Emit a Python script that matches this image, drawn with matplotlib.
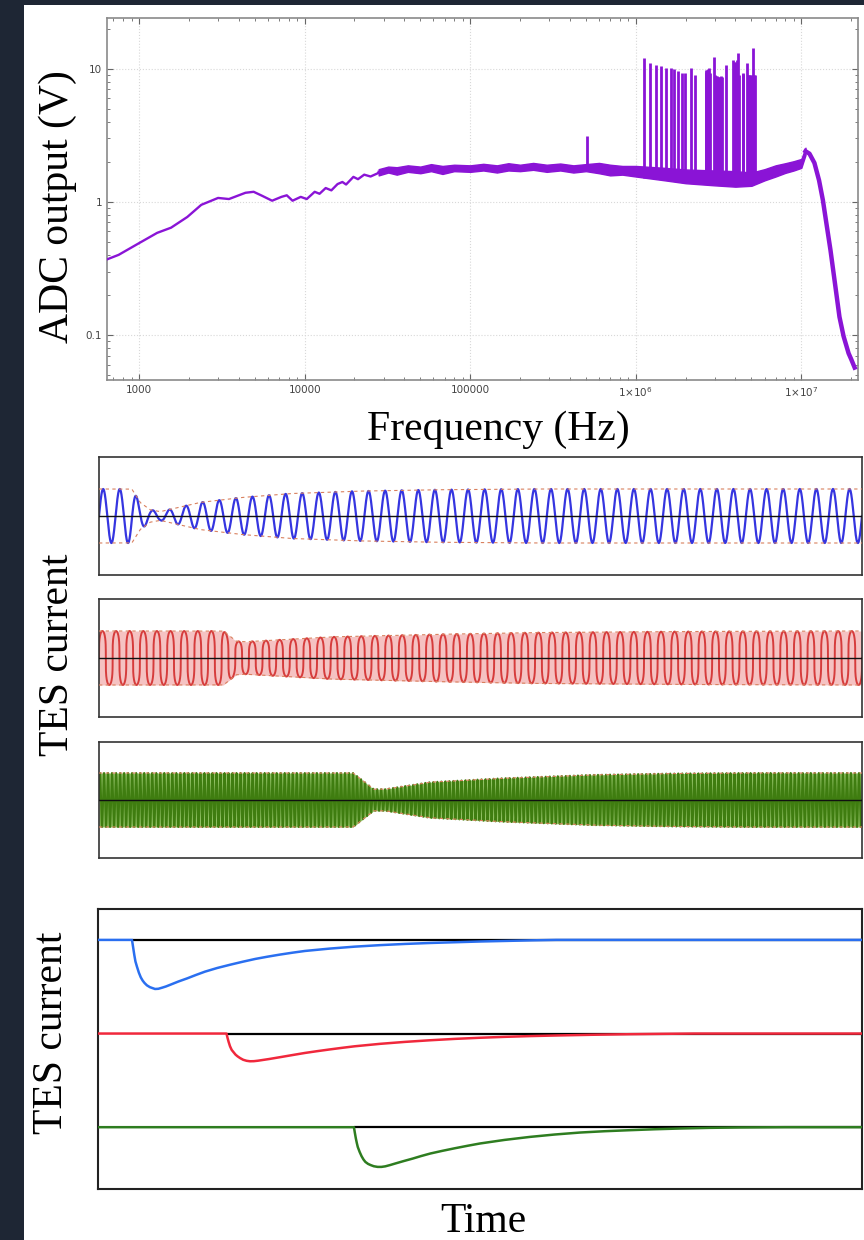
import numpy as np
import matplotlib
matplotlib.use("Agg")
import matplotlib.pyplot as plt
from matplotlib.patches import Rectangle
from matplotlib.ticker import FixedLocator, FixedFormatter, LogLocator, NullFormatter

# ---- top panel: ADC output vs frequency ----
spec_f = [640, 752, 1000, 1285, 1560, 1955, 2375, 3000, 3490, 4390, 4920, 5540, 6360,
          7240, 7800, 8450, 9470, 10300, 11500, 12300, 13400, 14500, 15800, 16900,
          17800, 19700, 21000, 22900, 25000, 28900]
spec_v = [0.37, 0.40, 0.49, 0.585, 0.64, 0.77, 0.95, 1.07, 1.05, 1.17, 1.19, 1.11, 1.02,
          1.09, 1.12, 1.02, 1.09, 1.05, 1.19, 1.15, 1.27, 1.22, 1.36, 1.41,
          1.35, 1.54, 1.48, 1.60, 1.55, 1.68]

tail_f = [1.06e7, 1.12e7, 1.2e7, 1.28e7, 1.35e7, 1.42e7, 1.5e7, 1.6e7, 1.7e7, 1.8e7,
          1.93e7, 2.0e7, 2.1e7]
tail_v = [2.40, 2.30, 1.96, 1.45, 1.03, 0.68, 0.435, 0.24, 0.137, 0.098,
          0.073, 0.066, 0.057]

band_f = [2.8e4, 3.2e4, 3.6e4, 4.2e4, 5e4, 5.8e4, 6.8e4, 8e4, 1e5, 1.2e5, 1.45e5,
          1.7e5, 2e5, 2.4e5, 2.9e5, 3.5e5, 4.2e5, 5e5, 6e5, 7e5, 8.3e5, 1e6, 1.5e6,
          2e6, 3e6, 4e6, 5e6, 6e6, 7e6, 8e6, 9e6, 1e7, 1.06e7]
band_lo = [1.58, 1.66, 1.60, 1.68, 1.64, 1.70, 1.62, 1.70, 1.68, 1.72, 1.66,
           1.72, 1.70, 1.74, 1.68, 1.72, 1.66, 1.70, 1.64, 1.58, 1.60, 1.55, 1.45,
           1.38, 1.33, 1.30, 1.32, 1.45, 1.55, 1.65, 1.72, 1.80, 2.25]
band_hi = [1.76, 1.84, 1.82, 1.88, 1.84, 1.92, 1.86, 1.90, 1.88, 1.93, 1.88,
           1.95, 1.90, 1.96, 1.90, 1.94, 1.88, 1.92, 1.96, 1.90, 1.86, 1.86, 1.80,
           1.75, 1.72, 1.70, 1.66, 1.76, 1.88, 1.95, 2.02, 2.10, 2.55]

spike_f = [5.07e5, 1.12e6, 1.22e6, 1.32e6, 1.42e6, 1.52e6, 1.63e6, 1.71e6, 1.79e6,
           1.90e6, 1.99e6, 2.15e6, 2.27e6, 2.64e6, 2.67e6, 2.70e6, 2.73e6, 2.77e6,
           2.80e6, 2.97e6, 3.03e6, 3.07e6, 3.11e6, 3.15e6, 3.18e6, 3.22e6, 3.26e6,
           3.30e6, 3.53e6, 3.85e6, 3.90e6, 3.95e6, 4.00e6, 4.05e6, 4.09e6, 4.13e6,
           4.20e6, 4.43e6, 4.47e6, 4.71e6, 4.75e6, 4.80e6, 4.85e6, 4.90e6, 4.98e6,
           5.05e6, 5.11e6, 5.17e6, 5.23e6]
spike_v = [3.1, 12.0, 11.0, 10.7, 10.4, 10.1, 10.2, 9.9, 9.65,
           9.3, 9.3, 10.1, 9.0, 9.5, 9.7, 9.8, 9.9, 10.1,
           9.2, 12.3, 9.0, 8.8, 8.75, 8.7, 8.6, 8.7, 8.75,
           8.6, 10.7, 11.7, 11.2, 11.0, 11.0, 11.3, 11.6, 13.2,
           9.0, 9.3, 9.1, 11.0, 9.0, 8.9, 8.9, 8.8, 9.0,
           9.0, 14.3, 9.0, 9.0]
spike_base = [1.75] + [1.5] * (len(spike_f) - 1)

freq_ticks = [1000, 10000, 100000, 1e6, 1e7]
freq_labels = ["1000", "10000", "100000", r"1$\times$10$^6$", r"1$\times$10$^7$"]
adc_ticks = [0.1, 1, 10]
adc_labels = ["0.1", "1", "10"]

# ---- middle panels: carrier envelopes (time as fraction of window) ----
blue_env_t = [0.0, 0.043, 0.054, 0.067, 0.080, 0.102, 0.132, 0.185, 0.250, 0.338, 0.434, 0.565, 1.0]
blue_env_a = [1.0, 1.0, 0.50, 0.23, 0.16, 0.30, 0.50, 0.68, 0.83, 0.92, 0.97, 1.0, 1.0]
red_env_t = [0.0, 0.163, 0.180, 0.191, 0.303, 0.434, 0.565, 0.761, 1.0]
red_env_a = [1.0, 1.0, 0.62, 0.60, 0.78, 0.87, 0.94, 0.98, 1.0]
green_env_t = [0.0, 0.333, 0.360, 0.375, 0.434, 0.526, 0.647, 0.750, 0.850, 1.0]
green_env_a = [1.0, 1.0, 0.40, 0.40, 0.66, 0.80, 0.93, 0.98, 1.0, 1.0]
carrier_cycles = [46, 56, 190]

# ---- bottom panel: TES pulses (time fraction, current offset) ----
blue_pulse_t = [0.0, 0.0445, 0.046, 0.0475, 0.049, 0.051, 0.0535, 0.056, 0.0585, 0.0609,
                0.064, 0.068, 0.0746, 0.079, 0.084, 0.089, 0.094, 0.105, 0.117, 0.128,
                0.140, 0.156, 0.173, 0.190, 0.206, 0.222, 0.238, 0.255, 0.271, 0.303,
                0.336, 0.369, 0.402, 0.434, 0.467, 0.500, 0.533, 0.566, 0.60, 1.0]
blue_pulse_i = [0.0, 0.0, -0.08, -0.16, -0.23, -0.286, -0.35, -0.40, -0.435, -0.460,
                -0.485, -0.505, -0.524, -0.522, -0.510, -0.497, -0.481, -0.445, -0.410, -0.375,
                -0.339, -0.300, -0.265, -0.232, -0.203, -0.179, -0.157, -0.136, -0.118, -0.093,
                -0.072, -0.056, -0.043, -0.033, -0.025, -0.017, -0.011, -0.005, 0.0, 0.0]
red_pulse_t = [0.0, 0.1682, 0.1695, 0.1710, 0.1728, 0.1750, 0.1775, 0.180, 0.1826, 0.186,
               0.190, 0.1945, 0.199, 0.204, 0.2094, 0.224, 0.240, 0.255, 0.271, 0.287,
               0.303, 0.320, 0.336, 0.369, 0.402, 0.434, 0.467, 0.500, 0.533, 0.566,
               0.598, 0.647, 0.696, 0.740, 0.78, 1.0]
red_pulse_i = [0.0, 0.0, -0.045, -0.09, -0.136, -0.175, -0.20, -0.225, -0.243, -0.262,
               -0.280, -0.291, -0.296, -0.295, -0.290, -0.272, -0.250, -0.229, -0.207, -0.188,
               -0.170, -0.152, -0.136, -0.110, -0.089, -0.072, -0.057, -0.045, -0.035, -0.027,
               -0.021, -0.013, -0.007, -0.003, 0.0, 0.0]
green_pulse_t = [0.0, 0.335, 0.3362, 0.3375, 0.3388, 0.340, 0.3425, 0.345, 0.3475, 0.350,
                 0.3535, 0.357, 0.361, 0.366, 0.371, 0.376, 0.382, 0.389, 0.400, 0.412,
                 0.423, 0.435, 0.451, 0.467, 0.484, 0.500, 0.532, 0.565, 0.598, 0.631,
                 0.663, 0.696, 0.729, 0.762, 0.800, 0.840, 0.900, 1.0]
green_pulse_i = [0.0, 0.0, -0.06, -0.12, -0.17, -0.211, -0.265, -0.31, -0.345, -0.371,
                 -0.392, -0.405, -0.417, -0.424, -0.424, -0.418, -0.405, -0.388, -0.362, -0.335,
                 -0.308, -0.281, -0.252, -0.225, -0.198, -0.174, -0.136, -0.104, -0.078, -0.057,
                 -0.043, -0.032, -0.022, -0.014, -0.007, -0.003, 0.0, 0.0]
baselines = [0.0, -1.0, -2.0]

serif = "Liberation Serif"
W, H = 864, 1240
fig = plt.figure(figsize=(W / 100, H / 100), dpi=100, facecolor="#1e2634")
fig.add_artist(Rectangle((24 / W, 0), 1 - 24 / W, 1 - 5 / H, transform=fig.transFigure,
                         facecolor="white", edgecolor="none", zorder=-10))


def fx(px):
    return px / W


def fy(py):
    return 1 - py / H


# top spectrum
ax = fig.add_axes([fx(107), fy(380), (858 - 107) / W, (380 - 18) / H])
ax.set_xscale("log")
ax.set_yscale("log")
ax.set_xlim(640, 2.2e7)
ax.set_ylim(0.046, 24)
purple = "#8a14d6"
ax.fill_between(band_f, band_lo, band_hi, color=purple, lw=1.0, edgecolor=purple, zorder=3)
ax.plot(spec_f + [band_f[0]], spec_v + [1.68], color=purple, lw=1.7, zorder=4)
ax.plot(tail_f, tail_v, color=purple, lw=3.2, zorder=4)
ax.vlines(spike_f, spike_base, spike_v, color=purple, lw=2.0, zorder=4)
ax.xaxis.set_major_locator(FixedLocator(freq_ticks))
ax.xaxis.set_major_formatter(FixedFormatter(freq_labels))
ax.yaxis.set_major_locator(FixedLocator(adc_ticks))
ax.yaxis.set_major_formatter(FixedFormatter(adc_labels))
for a in (ax.xaxis, ax.yaxis):
    a.set_minor_locator(LogLocator(base=10, subs=np.arange(2, 10)))
    a.set_minor_formatter(NullFormatter())
ax.tick_params(which="both", direction="in", top=True, right=True, colors="#666",
               labelcolor="#444", labelsize=7.5)
ax.tick_params(which="major", length=4)
ax.tick_params(which="minor", length=2.5)
ax.grid(True, which="major", ls=":", color="#d8d8d8", lw=0.8)
for s in ax.spines.values():
    s.set_color("#8a8a8a")
    s.set_linewidth(1.2)

fig.text(fx(58), fy(207), "ADC output (V)", rotation=90, ha="center", va="center",
         family=serif, fontsize=30)
fig.text(fx(498), fy(430), "Frequency (Hz)", ha="center", va="center",
         family=serif, fontsize=30)

# middle carriers
t = np.linspace(0, 1, 12000)
panels = [(457, 575), (599, 717), (742, 858)]
env_t = [blue_env_t, red_env_t, green_env_t]
env_a = [blue_env_a, red_env_a, green_env_a]
line_cols = ["#3535e0", "#d63c3c", "#3f7d10"]
fill_cols = [None, "#f5c2c2", "#8fc062"]
for k, (top, bot) in enumerate(panels):
    axm = fig.add_axes([fx(99), fy(bot), 763 / W, (bot - top) / H])
    half = (bot - top) / 2 / 27.0
    axm.set_xlim(0, 1)
    axm.set_ylim(-half, half)
    env = np.interp(t, env_t[k], env_a[k])
    s = np.sin(2 * np.pi * carrier_cycles[k] * t)
    if k == 1:
        s = np.sign(s) * np.abs(s) ** 0.25
    if fill_cols[k]:
        axm.fill_between(t, -env, env, color=fill_cols[k], lw=0, zorder=1)
    axm.plot(t, env * s, color=line_cols[k], lw=[1.6, 1.4, 1.5][k], zorder=2)
    axm.plot(t, env, color="#d9805e", lw=0.8, ls=(0, (3, 3)), zorder=3)
    axm.plot(t, -env, color="#d9805e", lw=0.8, ls=(0, (3, 3)), zorder=3)
    axm.axhline(0, color="#111111", lw=1.0, zorder=4)
    axm.set_xticks([])
    axm.set_yticks([])
    for sp in axm.spines.values():
        sp.set_color("#333333")
        sp.set_linewidth(1.2)

fig.text(fx(58), fy(655), "TES current", rotation=90, ha="center", va="center",
         family=serif, fontsize=30)

# bottom pulses
axb = fig.add_axes([fx(98), fy(1189), 764 / W, 280 / H])
axb.set_xlim(0, 1)
axb.set_ylim(-2.66, 0.33)
pulse_t = [blue_pulse_t, red_pulse_t, green_pulse_t]
pulse_i = [blue_pulse_i, red_pulse_i, green_pulse_i]
onsets = [0.0445, 0.1682, 0.335]
pulse_cols = ["#2a6ff0", "#f0283c", "#2e7d20"]
for k in range(3):
    axb.hlines(baselines[k], onsets[k], 1, color="black", lw=1.6, zorder=2)
    axb.plot(pulse_t[k], np.array(pulse_i[k]) + baselines[k], color=pulse_cols[k],
             lw=1.8, zorder=3)
axb.set_xticks([])
axb.set_yticks([])
for sp in axb.spines.values():
    sp.set_color("#222222")
    sp.set_linewidth(1.5)

fig.text(fx(52), fy(1033), "TES current", rotation=90, ha="center", va="center",
         family=serif, fontsize=30)
fig.text(fx(483), fy(1222), "Time", ha="center", va="center", family=serif, fontsize=30)

fig.savefig("out.png", dpi=100, facecolor=fig.get_facecolor())
